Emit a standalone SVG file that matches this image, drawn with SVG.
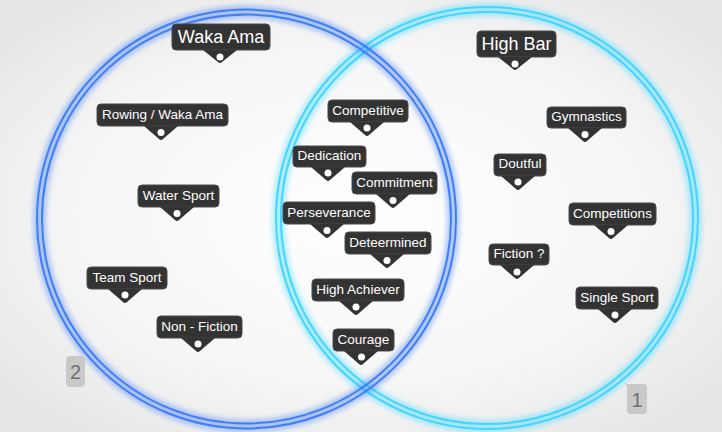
<svg xmlns="http://www.w3.org/2000/svg" width="722" height="432" viewBox="0 0 722 432">
<defs>
<radialGradient id="bg" cx="50%" cy="50%" r="65%">
<stop offset="0" stop-color="#ffffff"/>
<stop offset="0.6" stop-color="#f6f6f6"/>
<stop offset="1" stop-color="#e6e6e6"/>
</radialGradient>
<filter id="glow" x="-20%" y="-20%" width="140%" height="140%">
<feGaussianBlur stdDeviation="2.5"/>
</filter>
<style>
.lbl rect{fill:#333333;stroke:#4a4a4a;stroke-width:1}
.lbl path{fill:#333333}
.lbl circle{fill:#ffffff}
.lbl text{fill:#ffffff;font-family:"Liberation Sans",Arial,sans-serif;font-size:13.5px;text-anchor:middle}
.lbl text.big{font-size:18px}
.badge rect,.badge path{fill:#c9c9c9}
.badge text{fill:#707070;font-family:"Liberation Sans",Arial,sans-serif;font-size:20px;text-anchor:middle}
.ringb{fill:none;stroke:#3f7ef5}
.ringc{fill:none;stroke:#40d6ff}
</style>
</defs>
<rect width="722" height="432" fill="url(#bg)"/>
<g id="ring-right">
<circle cx="487" cy="218" r="208.5" class="ringc" stroke-width="13" opacity="0.4" filter="url(#glow)"/>
<circle cx="487" cy="218" r="211" class="ringc" stroke-width="2"/>
<circle cx="487" cy="218" r="206" class="ringc" stroke-width="2"/>
</g>
<g id="ring-left">
<circle cx="246.5" cy="219" r="207" class="ringb" stroke-width="13" opacity="0.4" filter="url(#glow)"/>
<circle cx="246.5" cy="219" r="209.5" class="ringb" stroke-width="2"/>
<circle cx="246.5" cy="219" r="204.5" class="ringb" stroke-width="2"/>
</g>
<g id="badge-2" class="badge">
<rect x="66" y="356" width="19" height="31" rx="4"/>
<text x="75.5" y="379">2</text>
</g>
<g id="badge-1" class="badge">
<path d="M624,383 L631,385 L631,390 Z"/>
<rect x="627" y="384" width="20" height="30" rx="4"/>
<text x="637" y="407">1</text>
</g>
<g id="connectors"></g>
<g id="waka-ama" class="lbl">
<rect x="172" y="24" width="98" height="26" rx="4"/>
<path d="M203,50 L237,50 L222,62 Q220,64 218,62 Z"/>
<circle cx="220" cy="57" r="3.5"/>
<text class="big" x="221" y="43">Waka Ama</text>
</g>
<g id="high-bar" class="lbl">
<rect x="477" y="31" width="79" height="26" rx="4"/>
<path d="M498,57 L532,57 L517,69 Q515,71 513,69 Z"/>
<circle cx="515" cy="64" r="3.5"/>
<text class="big" x="516.5" y="50">High Bar</text>
</g>
<g id="rowing" class="lbl">
<rect x="97" y="104" width="131" height="22" rx="4"/>
<path d="M144,126 L178,126 L163,139 Q161,141 159,139 Z"/>
<circle cx="161" cy="132.5" r="3.5"/>
<text x="162.5" y="118.5">Rowing / Waka Ama</text>
</g>
<g id="water-sport" class="lbl">
<rect x="138" y="185" width="81" height="22" rx="4"/>
<path d="M160,207 L194,207 L179,220 Q177,222 175,220 Z"/>
<circle cx="177" cy="213.5" r="3.5"/>
<text x="178.5" y="199.5">Water Sport</text>
</g>
<g id="team-sport" class="lbl">
<rect x="87" y="267" width="80" height="22" rx="4"/>
<path d="M108,289 L142,289 L127,302 Q125,304 123,302 Z"/>
<circle cx="125" cy="295" r="3.5"/>
<text x="127" y="281.5">Team Sport</text>
</g>
<g id="non-fiction" class="lbl">
<rect x="157" y="316" width="85" height="22" rx="4"/>
<path d="M181,338 L215,338 L200,351 Q198,353 196,351 Z"/>
<circle cx="198" cy="344" r="3.5"/>
<text x="199.5" y="330.5">Non - Fiction</text>
</g>
<g id="competitive" class="lbl">
<rect x="328" y="100" width="80" height="22" rx="4"/>
<path d="M350,122 L384,122 L369,135 Q367,137 365,135 Z"/>
<circle cx="367" cy="128" r="3.5"/>
<text x="368" y="114.5">Competitive</text>
</g>
<g id="dedication" class="lbl">
<rect x="293" y="146" width="73" height="21" rx="4"/>
<path d="M311,167 L345,167 L330,180 Q328,182 326,180 Z"/>
<circle cx="328" cy="173" r="3.5"/>
<text x="329.5" y="160">Dedication</text>
</g>
<g id="commitment" class="lbl">
<rect x="352" y="172" width="85" height="22" rx="4"/>
<path d="M376,194 L410,194 L395,207 Q393,209 391,207 Z"/>
<circle cx="393" cy="200.5" r="3.5"/>
<text x="394.5" y="186.5">Commitment</text>
</g>
<g id="perseverance" class="lbl">
<rect x="283" y="202" width="92" height="22" rx="4"/>
<path d="M310,224 L344,224 L329,237 Q327,239 325,237 Z"/>
<circle cx="327" cy="230.5" r="3.5"/>
<text x="329" y="216.5">Perseverance</text>
</g>
<g id="deteermined" class="lbl">
<rect x="345" y="232" width="86" height="22" rx="4"/>
<path d="M370,254 L404,254 L389,267 Q387,269 385,267 Z"/>
<circle cx="387" cy="260.5" r="3.5"/>
<text x="388" y="246.5">Deteermined</text>
</g>
<g id="high-achiever" class="lbl">
<rect x="312" y="279" width="92" height="22" rx="4"/>
<path d="M339,301 L373,301 L358,314 Q356,316 354,314 Z"/>
<circle cx="356" cy="307" r="3.5"/>
<text x="358" y="293.5">High Achiever</text>
</g>
<g id="courage" class="lbl">
<rect x="333" y="329" width="61" height="22" rx="4"/>
<path d="M344,351 L378,351 L363,364 Q361,366 359,364 Z"/>
<circle cx="361.5" cy="357" r="3.5"/>
<text x="363.5" y="343.5">Courage</text>
</g>
<g id="gymnastics" class="lbl">
<rect x="547" y="107" width="79" height="21" rx="4"/>
<path d="M568,128 L602,128 L587,141 Q585,143 583,141 Z"/>
<circle cx="585" cy="134.5" r="3.5"/>
<text x="586.5" y="121">Gymnastics</text>
</g>
<g id="doutful" class="lbl">
<rect x="494" y="154" width="52" height="22" rx="4"/>
<path d="M501,176 L535,176 L520,189 Q518,191 516,189 Z"/>
<circle cx="518" cy="182" r="3.5"/>
<text x="520" y="168">Doutful</text>
</g>
<g id="competitions" class="lbl">
<rect x="569" y="203" width="87" height="22" rx="4"/>
<path d="M594,225 L628,225 L613,238 Q611,240 609,238 Z"/>
<circle cx="611" cy="231.5" r="3.5"/>
<text x="612.5" y="217.5">Competitions</text>
</g>
<g id="fiction" class="lbl">
<rect x="489" y="244" width="60" height="21" rx="4"/>
<path d="M500,265 L534,265 L519,278 Q517,280 515,278 Z"/>
<circle cx="517" cy="272" r="3.5"/>
<text x="519" y="258">Fiction ?</text>
</g>
<g id="single-sport" class="lbl">
<rect x="576" y="287" width="82" height="22" rx="4"/>
<path d="M598,309 L632,309 L617,322 Q615,324 613,322 Z"/>
<circle cx="615" cy="315" r="3.5"/>
<text x="617" y="301.5">Single Sport</text>
</g>
</svg>
